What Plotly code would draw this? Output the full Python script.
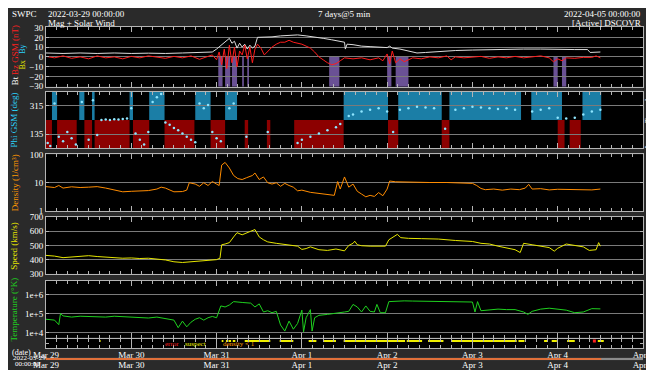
import plotly.graph_objects as go
import pandas as pd

BASE = pd.Timestamp("2022-03-29 00:00:00")
END = pd.Timestamp("2022-04-05 00:00:00")
DATA_END_DAYS = 6.51

def T(days):
    return [None if d is None else BASE + pd.Timedelta(days=d) for d in days]

# ---------------- data (days since 2022-03-29 00:00) ----------------
bt_days = [0, 0.2, 0.4, 0.6, 0.8, 1.0, 1.2, 1.4, 1.6, 1.8, 1.95, 2.0, 2.05, 2.1, 2.15, 2.18, 2.21, 2.24,
           2.27, 2.3, 2.33, 2.36, 2.39, 2.42, 2.45, 2.48, 2.55, 2.65, 2.75, 2.85, 2.95, 3.05, 3.15, 3.25,
           3.35, 3.45, 3.5, 3.51, 3.53, 3.6, 3.7, 3.8, 3.9, 4.0, 4.03, 4.06, 4.15, 4.25, 4.35, 4.45, 4.6,
           4.8, 5.0, 5.2, 5.4, 5.6, 5.8, 6.0, 6.2, 6.35, 6.38, 6.5]
bt_vals = [4, 3.5, 4, 3.5, 4, 3.5, 3.8, 3.5, 4, 4.5, 5, 8, 12, 15, 19, 14, 16, 9,
           14, 10, 13, 8, 12, 9, 11, 20, 20, 20.5, 21.5, 22, 22.5, 21.5, 20.5, 19,
           17.5, 16, 15, 8, 13, 12.5, 11, 10.5, 10, 9.5, 11, 9, 8, 6, 4, 4.5, 5.5,
           6.5, 7, 7.5, 7.5, 8, 8, 7.5, 7.5, 7.5, 4.5, 5]

bz_days = [0.0, 0.1, 0.2, 0.3, 0.4, 0.5, 0.6, 0.7, 0.8, 0.9, 1.0, 1.1, 1.2, 1.3, 1.4, 1.5, 1.6, 1.7, 1.8,
           1.9, 1.95, 2.0, 2.03, 2.06, 2.09, 2.12, 2.15, 2.18, 2.21, 2.24, 2.27, 2.3, 2.33, 2.36, 2.39,
           2.42, 2.45, 2.48, 2.52, 2.56, 2.6, 2.65, 2.7, 2.75, 2.8, 2.85, 2.9, 2.95, 3.0, 3.05, 3.1,
           3.15, 3.2, 3.25, 3.3, 3.35, 3.4, 3.45, 3.5, 3.6, 3.7, 3.8, 3.9, 3.95, 4.0, 4.03, 4.06, 4.1,
           4.15, 4.2, 4.3, 4.4, 4.5, 4.6, 4.7, 4.75, 4.8, 4.9, 5.0, 5.1, 5.2, 5.3, 5.4, 5.5, 5.6, 5.7,
           5.8, 5.9, 5.95, 6.0, 6.05, 6.1, 6.2, 6.3, 6.4, 6.45, 6.5]
bz_vals = [0.5, -1, 1, -1.5, 0, -2, 1, -1, 0, -2, 0.5, -1, 1, 0, -1.5, 0.5, -1, 1, -2.5,
           0.5, 2, -3, 5, -8, 8, -12, 12, -6, 10, -10, 6, 2, 12, -2, 10,
           -6, 8, 13, 9, 2, 6, 10, 13, 15, 15, 17, 15, 14, 13, 11, 9,
           5, 0, -3, -6, -8, -7, -4, -1, -2, -1, -3, -1, -4, 3, -7, 6, -6,
           -2, -5, -1, -2, 0, -1, 1, -3, 0, -1, -0.5, 0.5, -1.5, 0, -1, 0.5, -1, 0,
           1, -1, -5, -2, -4, -1, -1.5, -0.5, -0.5, 1, -1]

# southward (Bz<0) highlight intervals, days
south_start = [2.02, 2.10, 2.18, 2.30, 2.36, 3.32, 4.00, 4.10, 5.95, 6.05]
south_end = [2.07, 2.16, 2.24, 2.32, 2.38, 3.44, 4.05, 4.25, 6.00, 6.10]

# IMF sector intervals: A = away (upper, blue), T = towards (lower, red)
sector_start = [0.00, 0.07, 0.13, 0.39, 0.45, 0.54, 0.57, 0.98, 1.02, 1.21, 1.39, 1.75, 1.93, 2.10,
                2.33, 2.59, 2.91, 3.49, 4.01, 4.13, 4.64, 4.73, 5.69, 6.00, 6.14, 6.29]
sector_end = [0.07, 0.13, 0.36, 0.45, 0.54, 0.57, 0.98, 1.02, 1.21, 1.39, 1.74, 1.93, 2.10, 2.24,
              2.37, 2.63, 3.49, 4.01, 4.13, 4.64, 4.73, 5.57, 6.05, 6.08, 6.27, 6.51]
sector_kind = ["T", "A", "T", "A", "T", "A", "T", "A", "T", "A", "T", "A", "T", "A",
               "T", "T", "T", "A", "T", "A", "T", "A", "A", "T", "T", "A"]

phi_days = [0.02, 0.05, 0.1, 0.15, 0.2, 0.25, 0.3, 0.35, 0.42, 0.5, 0.55, 0.6, 0.65, 0.7, 0.75, 0.8,
            0.85, 0.9, 0.95, 1.0, 1.05, 1.1, 1.15, 1.2, 1.25, 1.3, 1.35, 1.4, 1.45, 1.5, 1.55, 1.6,
            1.65, 1.7, 1.75, 1.8, 1.85, 1.9, 1.95, 2.0, 2.05, 2.15, 2.2, 2.35, 2.6, 2.95, 3.0, 3.1,
            3.2, 3.3, 3.4, 3.45, 3.55, 3.6, 3.7, 3.8, 3.9, 4.0, 4.07, 4.15, 4.25, 4.35, 4.45, 4.55,
            4.68, 4.8, 4.9, 5.0, 5.1, 5.2, 5.3, 5.4, 5.5, 5.7, 5.8, 5.9, 6.0, 6.1, 6.2, 6.3, 6.4, 6.5]
phi_vals = [80, 60, 330, 120, 90, 150, 110, 70, 340, 100, 350, 130, 225, 228, 226, 230,
            229, 232, 235, 300, 140, 100, 70, 150, 340, 370, 390, 210, 195, 175, 160, 140,
            120, 100, 85, 330, 300, 320, 150, 110, 90, 300, 330, 120, 150, 80, 100, 120,
            140, 160, 180, 200, 250, 260, 280, 290, 300, 280, 150, 290, 300, 310, 305, 300,
            170, 290, 300, 310, 305, 300, 295, 300, 290, 280, 290, 300, 240, 235, 240, 260, 280, 290]

dens_days = [0, 0.1, 0.15, 0.2, 0.3, 0.4, 0.5, 0.6, 0.7, 0.8, 0.9, 1.0, 1.1, 1.2, 1.3, 1.35, 1.4, 1.5,
             1.6, 1.65, 1.68, 1.75, 1.8, 1.85, 1.9, 1.95, 2.0, 2.03, 2.06, 2.1, 2.15, 2.2, 2.25, 2.3,
             2.35, 2.42, 2.45, 2.5, 2.55, 2.6, 2.65, 2.7, 2.75, 2.8, 2.85, 2.9, 2.95, 3.0, 3.1, 3.2,
             3.3, 3.38, 3.42, 3.45, 3.5, 3.55, 3.6, 3.65, 3.7, 3.75, 3.8, 3.85, 3.9, 3.95, 4.0, 4.03,
             4.1, 4.2, 4.3, 4.5, 4.7, 4.9, 5.0, 5.05, 5.1, 5.15, 5.25, 5.35, 5.45, 5.55, 5.62, 5.66,
             5.7, 5.8, 5.9, 6.0, 6.1, 6.2, 6.3, 6.4, 6.5]
dens_vals = [7.3, 6.8, 8, 6.5, 7.2, 6.8, 7, 7.3, 6.5, 5.5, 4.8, 5, 5.2, 5.3, 6, 7, 6.5, 4.8,
             4.9, 5.5, 10, 9, 7.5, 10, 8, 11, 9, 8, 42, 52, 33, 18, 14, 13,
             15, 18, 22, 13, 16, 10, 9, 10, 7.5, 9.5, 8, 7, 5.2, 5.5, 4.6, 4.3,
             3.8, 3.6, 11, 6, 16, 7, 9, 5, 4, 3.2, 3.6, 3.3, 4.5, 3.5, 6, 11.5,
             10.8, 10.5, 10.3, 10.2, 10.2, 10, 9.5, 8, 6.3, 5.7, 6, 5.5, 6, 5.7, 6.5, 8.8,
             6, 6.2, 5.6, 5.9, 5.8, 5.7, 5.9, 5.6, 6]

speed_days = [0, 0.1, 0.2, 0.3, 0.4, 0.5, 0.6, 0.7, 0.8, 0.9, 1.0, 1.1, 1.2, 1.3, 1.4, 1.5, 1.6, 1.7,
              1.8, 1.9, 2.0, 2.04, 2.06, 2.1, 2.15, 2.2, 2.24, 2.3, 2.35, 2.4, 2.45, 2.5, 2.55, 2.6,
              2.7, 2.8, 2.9, 2.95, 3.0, 3.05, 3.1, 3.2, 3.3, 3.4, 3.5, 3.55, 3.6, 3.62, 3.65, 3.7,
              3.8, 3.9, 3.98, 4.02, 4.08, 4.12, 4.16, 4.25, 4.4, 4.6, 4.8, 5.0, 5.1, 5.2, 5.3, 5.4,
              5.5, 5.56, 5.6, 5.7, 5.8, 5.9, 5.96, 6.0, 6.1, 6.2, 6.3, 6.37, 6.45, 6.48, 6.5]
speed_vals = [430, 425, 414, 418, 425, 428, 422, 418, 415, 410, 412, 408, 410, 405, 398, 385, 380, 385,
              390, 395, 400, 410, 505, 510, 520, 560, 590, 575, 590, 600, 612, 560, 540, 525,
              515, 505, 500, 495, 472, 478, 490, 470, 465, 475, 462, 500, 515, 530, 505, 498,
              495, 497, 495, 540, 565, 578, 555, 550, 548, 545, 535, 528, 515, 510, 495, 485,
              470, 450, 515, 505, 495, 485, 460, 480, 510, 500, 490, 465, 470, 520, 495]

temp_days = [0, 0.1, 0.15, 0.17, 0.2, 0.3, 0.4, 0.5, 0.6, 0.7, 0.8, 0.9, 1.0, 1.1, 1.2, 1.3, 1.4, 1.5,
             1.55, 1.6, 1.65, 1.7, 1.75, 1.8, 1.85, 1.9, 1.95, 2.0, 2.05, 2.1, 2.15, 2.2, 2.3, 2.4,
             2.45, 2.5, 2.55, 2.6, 2.65, 2.7, 2.75, 2.8, 2.85, 2.9, 2.95, 3.0, 3.02, 3.05, 3.1, 3.12,
             3.15, 3.2, 3.3, 3.4, 3.45, 3.5, 3.55, 3.6, 3.65, 3.7, 3.75, 3.8, 3.85, 3.88, 3.92, 3.98,
             4.02, 4.1, 4.2, 4.3, 4.5, 4.7, 4.9, 5.0, 5.03, 5.06, 5.1, 5.2, 5.3, 5.4, 5.5, 5.6, 5.65,
             5.7, 5.8, 5.9, 6.0, 6.1, 6.2, 6.3, 6.4, 6.5]
temp_vals = [5.0e4, 4.5e4, 2.6e4, 1.0e5, 7.5e4, 6.5e4, 7.2e4, 6.8e4, 7e4, 6.5e4, 7.2e4, 6.8e4, 6.5e4,
             6e4, 5.8e4, 6.5e4, 5.5e4, 4.5e4, 1.8e4, 4e4, 2e4, 3.5e4, 5e4, 6e4, 4.5e4, 6e4, 7e4,
             6e4, 2.5e5, 2.2e5, 2.8e5, 4.2e5, 3.8e5, 3.5e5, 2.2e5, 3.2e5, 1.2e5, 1.4e5, 1.1e5,
             1.3e5, 2.5e4, 1.2e4, 4e4, 1.5e4, 3e4, 1.5e5, 1.1e4, 6e4, 1.6e5, 1.2e4, 6e4, 8e4,
             9e4, 1e5, 1.1e5, 1.2e5, 1.3e5, 3e5, 2.2e5, 1.2e5, 2.5e5, 1.3e5, 1.2e5, 3e5, 1.1e5,
             1.1e5, 4.2e5, 4.4e5, 4.6e5, 4.5e5, 4.4e5, 4.3e5, 4.1e5, 4e5, 1.2e5, 4.2e5, 1.4e5,
             1.6e5, 1.7e5, 1.6e5, 1.6e5, 1.2e5, 9e4, 1.3e5, 1.7e5, 1.9e5, 1.7e5, 1.5e5, 1.1e5,
             1.2e5, 1.8e5, 1.75e5]

# quality flags: "suspect" intervals (days) and "error" instants
suspect_start = [0.63, 2.06, 2.11, 2.14, 2.19, 2.33, 2.74, 3.08, 3.26, 3.49, 4.23, 4.48, 4.75, 5.54,
                 5.84, 5.93, 6.11, 6.47]
suspect_end = [0.64, 2.08, 2.13, 2.17, 2.22, 2.63, 2.90, 3.17, 3.40, 4.21, 4.41, 4.66, 5.52, 5.61,
               5.88, 5.99, 6.20, 6.54]
error_days = [6.43]

day_ticks = [0, 1, 2, 3, 4, 5, 6, 7]
day_labels = ["Mar 29", "Mar 30", "Mar 31", "Apr 1", "Apr 2", "Apr 3", "Apr 4", "Apr 5"]

# ---------------- layout helpers ----------------
W, H = 654, 370
ML, MR, MT, MB = 38, 11, 19, 8
PW = W - ML - MR
PH = H - MT - MB

def fy(py):
    return (H - MB - py) / PH

def fx(px):
    return (px - ML) / PW

panels = [(19, 80), (85, 143), (149, 207), (213, 271), (278, 336), (337, 347), (356.5, 359.5)]

FONT = "Liberation Serif"
LINE = "#b4b4b4"
GRID = "#7a7a7a"

fig = go.Figure()

fig.add_trace(go.Scatter(x=T(bt_days), y=bt_vals, mode="lines", line=dict(color="#dcdcdc", width=1),
                         xaxis="x", yaxis="y"))
fig.add_trace(go.Scatter(x=T(bz_days), y=bz_vals, mode="lines", line=dict(color="#ff1c1c", width=1),
                         xaxis="x", yaxis="y"))
fig.add_trace(go.Scatter(x=T(phi_days), y=phi_vals, mode="markers",
                         marker=dict(color="#8fe6ff", size=2.5), xaxis="x2", yaxis="y2"))
fig.add_trace(go.Scatter(x=T(dens_days), y=dens_vals, mode="lines", line=dict(color="#ff8c00", width=1),
                         xaxis="x3", yaxis="y3"))
fig.add_trace(go.Scatter(x=T(speed_days), y=speed_vals, mode="lines", line=dict(color="#e6e600", width=1),
                         xaxis="x4", yaxis="y4"))
fig.add_trace(go.Scatter(x=T(temp_days), y=temp_vals, mode="lines", line=dict(color="#1fd01f", width=1),
                         xaxis="x5", yaxis="y5"))
fx_s, fy_s = [], []
for a, b in zip(suspect_start, suspect_end):
    fx_s += [a, b, None]
    fy_s += [0.75, 0.75, None]
fig.add_trace(go.Scatter(x=T(fx_s), y=fy_s, mode="lines", line=dict(color="#f0f000", width=2),
                         xaxis="x6", yaxis="y6"))
fig.add_trace(go.Scatter(x=T(error_days), y=[0.75] * len(error_days), mode="markers",
                         marker=dict(color="#ff2020", size=3, symbol="square"), xaxis="x6", yaxis="y6"))
fig.add_trace(go.Scatter(x=T([0, 7]), y=[0.5, 0.5], mode="lines", line=dict(color="#8a8a8a", width=3),
                         xaxis="x7", yaxis="y7"))
fig.add_trace(go.Scatter(x=T([0, DATA_END_DAYS]), y=[0.5, 0.5], mode="lines",
                         line=dict(color="#e0703a", width=2), xaxis="x7", yaxis="y7"))

shapes = []
for a, b in zip(south_start, south_end):
    shapes.append(dict(type="rect", xref="x", yref="y", x0=T([a])[0], x1=T([b])[0], y0=0, y1=-30.6,
                       fillcolor="rgba(125,95,175,0.85)", line=dict(width=0), layer="below"))
for a, b, k in zip(sector_start, sector_end, sector_kind):
    if k == "A":
        y0, y1, col = 225, 405, "#1b7ea6"
    else:
        y0, y1, col = 45, 225, "#8c0000"
    shapes.append(dict(type="rect", xref="x2", yref="y2", x0=T([a])[0], x1=T([b])[0], y0=y0, y1=y1,
                       fillcolor=col, line=dict(width=0), layer="below"))

layout = dict(
    width=W, height=H, margin=dict(l=ML, r=MR, t=MT, b=MB),
    paper_bgcolor="#2a2a2a", plot_bgcolor="#000000", showlegend=False,
    font=dict(family=FONT, size=9, color="#ffffff"), shapes=shapes,
)

xbase = dict(type="date", range=[BASE, END], showline=True, linecolor=LINE, linewidth=1, mirror="ticks",
             ticks="inside", ticklen=5, tickcolor=LINE, tickwidth=1, tick0=BASE, dtick=86400000,
             minor=dict(dtick=3 * 3600000, ticks="inside", ticklen=3, tickcolor=LINE),
             showgrid=False, zeroline=False, showticklabels=False, fixedrange=True)

yspecs = [
    dict(range=[-30.6, 30.6], tickvals=[-30, -20, -10, 0, 10, 20, 30]),
    dict(range=[45, 405], tickvals=[135, 315]),
    dict(type="log", range=[0, 2], tickvals=[1, 10, 100], ticktext=["1", "10", "100"]),
    dict(range=[300, 700], tickvals=[300, 400, 500, 600, 700]),
    dict(type="log", range=[3.74, 6.72], tickvals=[1e4, 1e5, 1e6], ticktext=["1e+4", "1e+5", "1e+6"]),
    dict(range=[0, 1], showticklabels=False, showgrid=False),
    dict(range=[0, 1], showticklabels=False, showgrid=False, showline=False, ticks=""),
]

for i, (top, bot) in enumerate(panels):
    n = "" if i == 0 else str(i + 1)
    xa = dict(xbase)
    xa["domain"] = [0, 1]
    xa["anchor"] = "y" + n
    if i == 5:
        xa.update(showticklabels=True, tickvals=T(day_ticks), ticktext=day_labels,
                  tickfont=dict(size=9, color="#ffffff"), ticklabelstandoff=-2)
    if i == 6:
        xa.update(showline=False, ticks="", minor=dict(ticks=""), showticklabels=True,
                  tickvals=T(day_ticks), ticktext=day_labels, tickfont=dict(size=9, color="#ffffff"),
                  ticklabelstandoff=-3)
    ya = dict(domain=[fy(bot), fy(top)], anchor="x" + n, showline=True, linecolor=LINE, mirror="ticks",
              ticks="inside", ticklen=3, tickcolor=LINE, showgrid=True, gridcolor=GRID, gridwidth=1,
              zeroline=False, tickfont=dict(size=9, color="#ffffff"), fixedrange=True)
    ya.update(yspecs[i])
    layout["xaxis" + n] = xa
    layout["yaxis" + n] = ya

ann = []
def text(px, py, s, color="#ffffff", size=9, xanchor="left", angle=0):
    ann.append(dict(x=fx(px), y=fy(py), xref="paper", yref="paper", text=s, showarrow=False,
                    xanchor=xanchor, yanchor="middle", textangle=angle,
                    font=dict(family=FONT, size=size, color=color)))

text(2, 6, "SWPC")
text(38, 6, "2022-03-29 00:00:00")
text(38, 15, "Mag + Solar Wind")
text(341, 6, "7 days@5 min", xanchor="center")
text(643, 6, "2022-04-05 00:00:00", xanchor="right")
text(643, 15, "[Active] DSCOVR", xanchor="right")

text(6, 42, "Bz GSM (nT)", "#ff2020", 9, "center", -90)
text(6, 74, "Bt", "#ffffff", 9, "center", -90)
text(14, 58, "Bx", "#e8e800", 8, "center", -90)
text(14, 42, "By", "#2ad4ff", 8, "center", -90)
text(6, 114, "Phi GSM (deg)", "#2ad4ff", 9, "center", -90)
text(6, 178, "Density (1/cm³)", "#ff9900", 9, "center", -90)
text(6, 242, "Speed (km/s)", "#e6e600", 9, "center", -90)
text(6, 307, "Temperature (°K)", "#1fd01f", 9, "center", -90)
text(648, 114, "Away + Towards -", "#ffffff", 8, "center", -90)

text(166, 343, "error", "#ff2020", 7, "center")
text(190, 343, "suspect", "#f0f000", 7, "center")
text(234, 343, "density < 1", "#ff9900", 7, "center")

text(2, 351, "(date)", "#ffffff", 8)
text(3, 357, "2022-03-29", "#ffffff", 7)
text(5, 363, "00:00:00", "#ffffff", 7)

layout["annotations"] = ann
fig.update_layout(**layout)
fig.write_html("out.html")
